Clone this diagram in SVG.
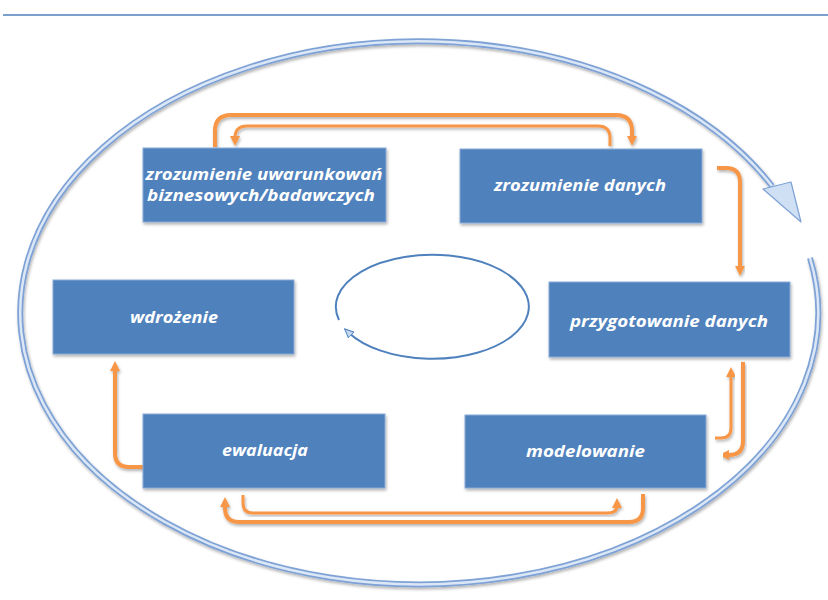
<svg xmlns="http://www.w3.org/2000/svg" width="828" height="600" viewBox="0 0 828 600">
  <defs>
    <style>
      .box { fill: #4f81bd; stroke: #8aaad6; stroke-width: 1; filter: url(#shadow); }
      .lbl { fill: #ffffff; font-family: "Open Sans", "Liberation Sans", sans-serif; font-weight: bold; font-style: italic; font-size: 16px; text-anchor: middle; }
      .conn { fill: none; stroke: #f79646; stroke-linecap: butt; stroke-linejoin: round; marker-end: url(#oarrow); filter: url(#shadow); }
      .outer { stroke-width: 4; }
      .inner { stroke-width: 3; }
    </style>
    <filter id="shadow" x="-20%" y="-20%" width="140%" height="140%">
      <feDropShadow dx="1" dy="2" stdDeviation="1.5" flood-color="#000000" flood-opacity="0.3"/>
    </filter>
    <marker id="oarrow" markerUnits="userSpaceOnUse" markerWidth="10" markerHeight="10" viewBox="0 0 10 10" refX="2" refY="5" orient="auto">
      <path d="M0,0 L10,5 L0,10 z" fill="#f79646"/>
    </marker>
    <marker id="barrow" markerUnits="userSpaceOnUse" markerWidth="10" markerHeight="10" viewBox="0 0 10 10" refX="3" refY="5" orient="auto">
      <path d="M0,1 L9,5 L0,9 z" fill="#c6d9f1" stroke="#4f81bd" stroke-width="1"/>
    </marker>
  </defs>

  <!-- header rule -->
  <line x1="3" y1="15" x2="828" y2="15" stroke="#4f81bd" stroke-width="1.5"/>

  <!-- big cycle arrow -->
  <g id="cycle">
    <path d="M 810 258 A 399 271.5 0 1 1 772 186" fill="none" stroke="#7ea2d6" stroke-width="6" filter="url(#shadow)"/>
    <path d="M 810 258 A 399 271.5 0 1 1 772 186" fill="none" stroke="#dce7f6" stroke-width="2.5"/>
    <polygon points="763,189 791,182 801,222" fill="#cfdff4" stroke="#7ea2d6" stroke-width="1.2" stroke-linejoin="round"/>
  </g>

  <!-- center small cycle -->
  <g id="center-cycle">
    <path d="M 339 320 A 96.5 52 0 1 1 349 333" fill="none" stroke="#4f81bd" stroke-width="2" marker-end="url(#barrow)"/>
  </g>

  <!-- connectors -->
  <g id="connectors">
    <path class="conn outer" d="M 215 147 V 131 Q 215 115 231 115 H 616 Q 632 115 632 131 V 138"/>
    <path class="conn inner" d="M 610 146 V 138 Q 610 126 598 126 H 247 Q 235 126 235 138"/>
    <path class="conn outer" d="M 717 168 H 726 Q 740 168 740 182 V 268"/>
    <path class="conn outer" d="M 743 362 V 441 Q 743 455 729 455 H 727"/>
    <path class="conn inner" d="M 715 438 H 721 Q 731 438 731 428 V 375"/>
    <path class="conn outer" d="M 643 494 V 508 Q 643 522 629 522 H 239 Q 225 522 225 508 V 505"/>
    <path class="conn inner" d="M 243 495 V 503 Q 243 513 253 513 H 607 Q 617 513 617 506"/>
    <path class="conn outer" d="M 144 467 H 129 Q 115 467 115 453 V 369"/>
  </g>

  <!-- nodes -->
  <g id="business">
    <rect class="box" x="143" y="148" width="243" height="74"/>
    <text class="lbl" x="264" y="180" textLength="237" lengthAdjust="spacingAndGlyphs">zrozumienie uwarunkowań</text>
    <text class="lbl" x="261" y="201" textLength="228" lengthAdjust="spacingAndGlyphs">biznesowych/badawczych</text>
  </g>
  <g id="data-understanding">
    <rect class="box" x="460" y="149" width="242" height="74"/>
    <text class="lbl" x="580" y="191" textLength="172" lengthAdjust="spacingAndGlyphs">zrozumienie danych</text>
  </g>
  <g id="deployment">
    <rect class="box" x="53" y="280" width="241" height="74"/>
    <text class="lbl" x="174" y="323" textLength="88" lengthAdjust="spacingAndGlyphs">wdrożenie</text>
  </g>
  <g id="data-preparation">
    <rect class="box" x="549" y="282" width="241" height="75"/>
    <text class="lbl" x="669" y="327" textLength="198" lengthAdjust="spacingAndGlyphs">przygotowanie danych</text>
  </g>
  <g id="evaluation">
    <rect class="box" x="143" y="414" width="242" height="74"/>
    <text class="lbl" x="265" y="456" textLength="86" lengthAdjust="spacingAndGlyphs">ewaluacja</text>
  </g>
  <g id="modeling">
    <rect class="box" x="465" y="415" width="241" height="73"/>
    <text class="lbl" x="585.5" y="457" textLength="119" lengthAdjust="spacingAndGlyphs">modelowanie</text>
  </g>
</svg>
